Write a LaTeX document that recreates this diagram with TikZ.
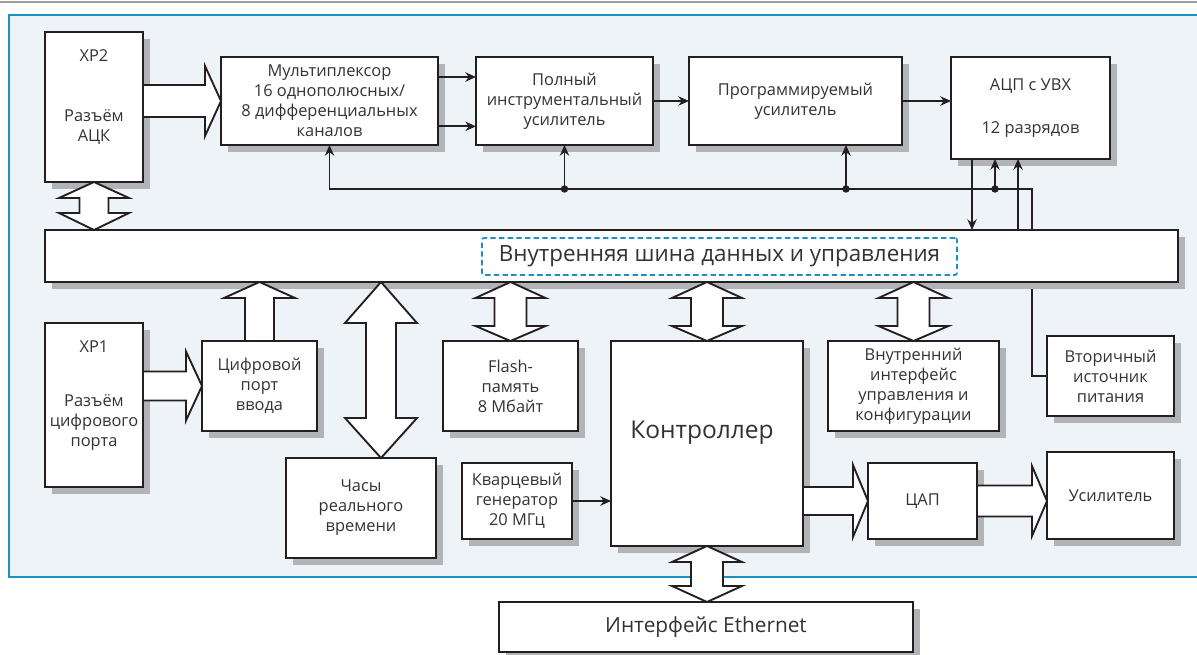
\documentclass[tikz,border=0pt]{standalone}
\usepackage{fontspec}
\setmainfont{Open Sans}
\usetikzlibrary{arrows.meta,calc,shadows}
\definecolor{panelfill}{HTML}{EEF3F8}
\definecolor{panelblue}{HTML}{1B8FC6}
\definecolor{shadowgray}{HTML}{B2B3B6}
\definecolor{ink}{HTML}{231F20}
\definecolor{txt}{HTML}{333333}
\newcommand\fsnorm{\fontsize{12.3}{15}\selectfont}
\newcommand\fsbig{\fontsize{18.4}{22}\selectfont}
\newcommand\fsbus{\fontsize{16.8}{20}\selectfont}
\newcommand\fseth{\fontsize{15.6}{18}\selectfont}
\tikzset{
 box/.style={draw=ink, line width=1.8pt, fill=white, inner sep=0pt, outer sep=0pt,
   align=center, font=\fsnorm, text=txt,
   drop shadow={shadow xshift=5.25pt, shadow yshift=-5.25pt, fill=shadowgray, opacity=1}},
 conn/.style={draw=ink, line width=1.3pt},
 arr/.style={conn, -{Stealth[length=8pt,width=7pt]}},
 fat/.style={draw=ink, line width=1.4pt, fill=white, line join=miter},
 txtnode/.style={text=txt, inner sep=0pt, align=center, font=\fsnorm},
 dashbox/.style={draw=panelblue, line width=1.3pt, dash pattern=on 4pt off 2.5pt,
   rounded corners=1.5pt, inner sep=0pt, text=txt, font=\fsbus},
}
\newcommand\bx[6]{\node[box, minimum width={(#4-#2)*0.75pt}, minimum height={(#5-#3)*0.75pt}] (#1) at ({(#2+#4)/2},{(#3+#5)/2}) {#6};}
% horizontal fat arrow pointing right: start, tip, half shaft, half head, head length
\newcommand\fatR[5]{\draw[fat] ($(#1)+(0,-#3)$) -- ($(#2)+(-#5,-#3)$) -- ($(#2)+(-#5,-#4)$) -- (#2) -- ($(#2)+(-#5,#4)$) -- ($(#2)+(-#5,#3)$) -- ($(#1)+(0,#3)$) -- cycle;}
% vertical fat arrow pointing up: start (bottom), tip (top)
\newcommand\fatU[5]{\draw[fat] ($(#1)+(-#3,0)$) -- ($(#2)+(-#3,#5)$) -- ($(#2)+(-#4,#5)$) -- (#2) -- ($(#2)+(#4,#5)$) -- ($(#2)+(#3,#5)$) -- ($(#1)+(#3,0)$) -- cycle;}
% vertical double fat arrow: top tip, bottom tip, half shaft, half head, top head length, bottom head length
\newcommand\fatUD[6]{\draw[fat] (#1) -- ($(#1)+(#4,#5)$) -- ($(#1)+(#3,#5)$) -- ($(#2)+(#3,-#6)$) -- ($(#2)+(#4,-#6)$) -- (#2) -- ($(#2)+(-#4,-#6)$) -- ($(#2)+(-#3,-#6)$) -- ($(#1)+(-#3,#5)$) -- ($(#1)+(-#4,#5)$) -- cycle;}
\begin{document}
\begin{tikzpicture}[x=0.75pt,y=-0.75pt]
\clip (0,0) rectangle (1197,655);
\fill[white] (0,0) rectangle (1197,655);
\draw[gray!75, line width=1.1pt] (0,2) -- (1197,2);
\draw[panelblue, line width=1.6pt, fill=panelfill] (9,15) rectangle (1215,577);

\coordinate (ctl) at (1032,189);

% boxes
\bx{xp2}{45}{32}{143}{182}{}
\bx{mux}{221}{57}{438}{145}{Мультиплексор\\16 однополюсных/\\8 дифференциальных\\каналов}
\bx{polny}{476}{57}{653}{145}{Полный\\инструментальный\\усилитель}
\bx{prog}{689}{57}{902}{145}{Программируемый\\усилитель}
\bx{adc}{951}{57}{1110}{159}{АЦП с УВХ\\[17pt]12 разрядов}
\bx{bus}{45}{230}{1178}{282}{}
\bx{xp1}{45}{323}{143}{487}{}
\bx{port}{202}{341}{317}{431}{Цифровой\\порт\\ввода}
\bx{flash}{443}{341}{578}{431}{Flash-\\память\\8 Мбайт}
\bx{ctrl}{611}{341}{803}{546}{}
\bx{iface}{828}{341}{999}{431}{Внутренний\\интерфейс\\управления и\\конфигурации}
\bx{vtor}{1047}{336}{1174}{416}{Вторичный\\источник\\питания}
\bx{chasy}{286}{458}{436}{558}{Часы\\реального\\времени}
\bx{kvarts}{462}{463}{572}{539}{Кварцевый\\генератор\\20 МГц}
\bx{dac}{868}{463}{977}{539}{ЦАП}
\bx{usil}{1047}{452}{1174}{539}{Усилитель}
\bx{eth}{499}{602}{913}{652}{\fseth Интерфейс Ethernet}

% texts placed inside boxes
\node[txtnode] (xp2a) at (94,55.5) {XP2};
\node[txtnode] (xp2b) at (94,127) {Разъём\\АЦК};
\node[txtnode] (xp1a) at (94,346.5) {XP1};
\node[txtnode] (xp1b) at (94,423) {Разъём\\цифрового\\порта};
\node[txtnode, font=\fsbig] (ctrlt) at (702,433) {Контроллер};
\node[dashbox, minimum width={475*0.75pt}, minimum height={37*0.75pt}] (bust) at (719.5,256.5) {Внутренняя шина данных и управления};

% thin connectors
\draw[arr] (ctl |- bus.north) -- (ctl) -| (mux.south);
\coordinate (d1) at (polny.south |- ctl);
\coordinate (d2) at (846,189);
\coordinate (d3) at (995,189);
\draw[arr] (d1) -- (polny.south);
\draw[arr] (d2) -- (d2 |- prog.south);
\draw[arr] (d3) -- (d3 |- adc.south);
\foreach \d in {d1,d2,d3} \fill[ink] (\d) circle[radius=2.8pt];
\coordinate (a1) at (972,0);
\coordinate (a2) at (1018,0);
\draw[arr] (a1 |- adc.south) -- (a1 |- bus.north);
\draw[arr] (a2 |- bus.north) -- (a2 |- adc.south);
\draw[conn] (vtor.west) -| ([yshift=-5.6pt]ctl |- bus.south);
\draw[arr] ([yshift=18pt]mux.east) -- ([yshift=18pt]polny.west);
\draw[arr] ([yshift=-19pt]mux.east) -- ([yshift=-19pt]polny.west);
\draw[arr] (polny.east) -- (prog.west);
\draw[arr] (prog.east) -- (prog.east -| adc.west);
\draw[arr] (kvarts.east) -- (kvarts.east -| ctrl.west);

% fat arrows
\coordinate (f1s) at (xp2.east |- mux.west);
\fatR{f1s}{mux.west}{16}{35}{16}
\coordinate (f2b) at (xp2.south |- bus.north);
\fatUD{xp2.south}{f2b}{14.5}{35}{16}{17}
\coordinate (f3s) at (xp1.east |- port.west);
\fatR{f3s}{port.west}{14.5}{34.5}{16}
\coordinate (f4e) at (port.north |- bus.south);
\fatU{port.north}{f4e}{14.5}{35.5}{16}
\coordinate (c5) at (381,0);
\coordinate (f5t) at (c5 |- bus.south);
\coordinate (f5b) at (c5 |- chasy.north);
\fatUD{f5t}{f5b}{15}{36}{41}{40}
\coordinate (f6t) at (flash.north |- bus.south);
\fatUD{f6t}{flash.north}{16}{35}{16}{15}
\coordinate (f7t) at (ctrl.north |- bus.south);
\fatUD{f7t}{ctrl.north}{16}{35}{16}{15}
\coordinate (f8t) at (iface.north |- bus.south);
\fatUD{f8t}{iface.north}{16}{35}{16}{15}
\coordinate (f9b) at (ctrl.south |- eth.north);
\fatUD{ctrl.south}{f9b}{16}{35}{16}{16}
\coordinate (f10s) at (ctrl.east |- dac.west);
\fatR{f10s}{dac.west}{14}{36}{15}
\coordinate (f11e) at (dac.east -| usil.west);
\fatR{dac.east}{f11e}{15.5}{35}{15}
\end{tikzpicture}
\end{document}
